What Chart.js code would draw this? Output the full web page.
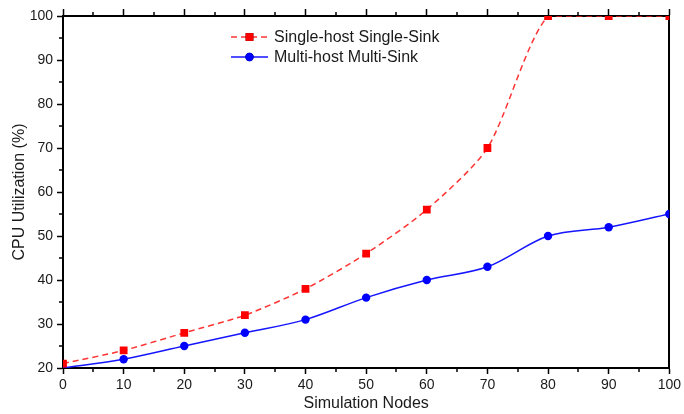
<!DOCTYPE html>
<html>
<head>
<meta charset="utf-8">
<script src="https://cdn.jsdelivr.net/npm/chart.js@4/dist/chart.umd.min.js"></script>
<style>
  html, body { margin: 0; padding: 0; background: #fff; }
  #wrap { width: 684px; height: 414px; }
</style>
</head>
<body>
<div id="wrap"><canvas id="ControlCpuChart" width="684" height="414"></canvas></div>
<script>
// data
var nodes = [0, 10, 20, 30, 40, 50, 60, 70, 80, 90, 100];
var singleSink = [21, 24, 28, 32, 38, 46, 56, 70, 100, 100, 100];
var multiSink = [20, 22, 25, 28, 31, 36, 40, 43, 50, 52, 55];
var seriesNames = ['Single-host Single-Sink', 'Multi-host Multi-Sink'];
var xMinorTicks = [5, 15, 25, 35, 45, 55, 65, 75, 85, 95];
var yMinorTicks = [25, 35, 45, 55, 65, 75, 85, 95];

var FONT = 'Arial, "Liberation Sans", sans-serif';

var cpuChart = {

    minorTicks: {
        id: 'minorTicks',
        afterDraw: function (chart) {
            var ctx = chart.ctx;
            var area = chart.chartArea;
            var xs = chart.scales.x;
            var ys = chart.scales.y;
            ctx.save();
            ctx.strokeStyle = '#000';
            ctx.lineWidth = 1.5;
            ctx.beginPath();
            xMinorTicks.forEach(function (v) {
                var px = Math.round(xs.getPixelForValue(v));
                ctx.moveTo(px, area.bottom);
                ctx.lineTo(px, area.bottom + 4);
                ctx.moveTo(px, area.top);
                ctx.lineTo(px, area.top - 4);
            });
            yMinorTicks.forEach(function (v) {
                var py = Math.round(ys.getPixelForValue(v));
                ctx.moveTo(area.left, py);
                ctx.lineTo(area.left - 4, py);
            });
            ctx.stroke();
            ctx.restore();
        }
    },

    insideLegend: {
        id: 'insideLegend',
        afterDraw: function (chart) {
            var ctx = chart.ctx;
            var x0 = 231, x1 = 268, rows = [37, 57];
            ctx.save();
            chart.data.datasets.forEach(function (ds, i) {
                var y = rows[i];
                ctx.strokeStyle = ds.borderColor;
                ctx.lineWidth = ds.borderWidth;
                ctx.setLineDash(ds.borderDash || []);
                ctx.beginPath();
                ctx.moveTo(x0, y);
                ctx.lineTo(x1, y);
                ctx.stroke();
                ctx.setLineDash([]);
                Chart.helpers.drawPoint(ctx, {
                    pointStyle: ds.pointStyle,
                    radius: ds.pointRadius,
                    borderWidth: 0,
                    rotation: 0
                }, (x0 + x1) / 2, y);
                ctx.fillStyle = ds.pointBackgroundColor;
                ctx.fill();
                ctx.fillStyle = '#1a1a1a';
                ctx.font = '16px ' + FONT;
                ctx.textBaseline = 'middle';
                ctx.fillText(ds.label, 274, y + 1);
            });
            ctx.restore();
        }
    },

    load: function () {
        var ctxL = document.getElementById('ControlCpuChart').getContext('2d');
        new Chart(ctxL, {
            type: 'line',
            data: {
                labels: nodes,
                datasets: [{
                    label: seriesNames[0],
                    data: singleSink,
                    borderColor: 'rgba(255, 30, 30, 0.9)',
                    backgroundColor: '#ff0000',
                    pointBackgroundColor: '#ff0000',
                    pointBorderWidth: 0,
                    pointStyle: 'rect',
                    pointRadius: 5.5,
                    borderWidth: 1.5,
                    borderDash: [6, 4],
                    tension: 0.25
                }, {
                    label: seriesNames[1],
                    data: multiSink,
                    borderColor: '#1515ff',
                    backgroundColor: '#0000ff',
                    pointBackgroundColor: '#0000ff',
                    pointBorderWidth: 0,
                    pointStyle: 'circle',
                    pointRadius: 4.2,
                    borderWidth: 1.5,
                    cubicInterpolationMode: 'monotone'
                }]
            },
            options: {
                responsive: false,
                animation: false,
                events: [],
                layout: { padding: { left: 0, right: 0, top: 0, bottom: 0 } },
                plugins: {
                    legend: { display: false },
                    tooltip: { enabled: false }
                },
                scales: {
                    x: {
                        type: 'linear',
                        position: 'bottom',
                        min: 0,
                        max: 100,
                        afterFit: function (s) { s.height = 46; },
                        ticks: {
                            stepSize: 10,
                            color: '#1a1a1a',
                            padding: 3,
                            maxRotation: 0,
                            font: { family: FONT, size: 14 }
                        },
                        grid: {
                            drawOnChartArea: false,
                            drawTicks: true,
                            tickLength: 6,
                            tickWidth: 1.5,
                            tickColor: '#000'
                        },
                        border: { display: true, color: '#000', width: 2 },
                        title: {
                            display: true,
                            text: 'Simulation Nodes',
                            color: '#1a1a1a',
                            padding: { top: 0, bottom: 1 },
                            font: { family: FONT, size: 16 }
                        }
                    },
                    xTop: {
                        type: 'linear',
                        axis: 'x',
                        position: 'top',
                        min: 0,
                        max: 100,
                        afterFit: function (s) { s.height = 16; },
                        ticks: { stepSize: 10, display: false },
                        grid: {
                            drawOnChartArea: false,
                            drawTicks: true,
                            tickLength: 7,
                            tickWidth: 1.5,
                            tickColor: '#000'
                        },
                        border: { display: true, color: '#000', width: 2 }
                    },
                    y: {
                        type: 'linear',
                        position: 'left',
                        min: 20,
                        max: 100,
                        afterFit: function (s) { s.width = 63; },
                        ticks: {
                            stepSize: 10,
                            color: '#1a1a1a',
                            padding: 4,
                            font: { family: FONT, size: 14 }
                        },
                        grid: {
                            drawOnChartArea: false,
                            drawTicks: true,
                            tickLength: 6,
                            tickWidth: 1.5,
                            tickColor: '#000'
                        },
                        border: { display: true, color: '#000', width: 2 },
                        title: {
                            display: true,
                            text: 'CPU Utilization (%)',
                            color: '#1a1a1a',
                            padding: { top: 10, bottom: 2 },
                            font: { family: FONT, size: 16 }
                        }
                    },
                    yRight: {
                        type: 'linear',
                        axis: 'y',
                        position: 'right',
                        min: 20,
                        max: 100,
                        afterFit: function (s) { s.width = 12; },
                        ticks: { display: false },
                        grid: { display: false, drawTicks: false },
                        border: { display: true, color: '#000', width: 2 }
                    }
                }
            },
            plugins: [cpuChart.minorTicks, cpuChart.insideLegend]
        });
    }
};

cpuChart.load();
</script>
</body>
</html>
